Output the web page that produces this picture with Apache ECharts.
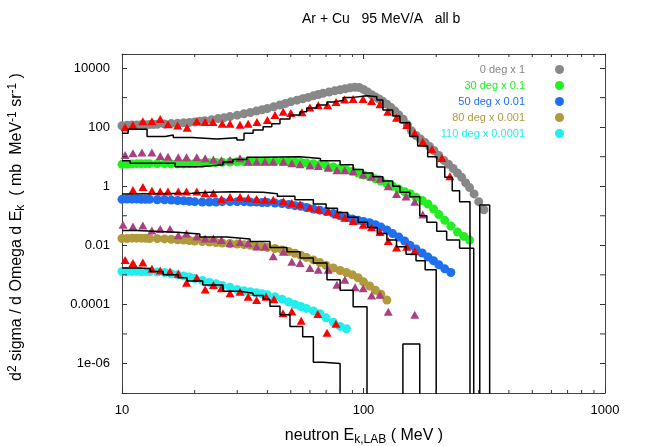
<!DOCTYPE html>
<html>
<head>
<meta charset="utf-8">
<script src="https://cdn.jsdelivr.net/npm/echarts@6/dist/echarts.min.js"></script>
<style>
  html, body { margin: 0; padding: 0; background: #fff; }
  #chart { width: 664px; height: 446px; }
</style>
</head>
<body>
<div id="chart"></div>
<script>
// ---- data (MeV, mb/MeV/sr, already scaled) ----
var deg0E = [10,10.5,11,11.5,12,12.5,13,13.5,14,15,16,17,18,19,20,21,22,23.5,25,26.5,28,30,32,34,36,38,40,42.5,45,47.5,50,53,56,59,62,65,68,72,76,80,84,88,92,96,100,104,108,112,116,120,125,130,135,140,146,152,158,165,172,180,188,196,205,215,225,235,245,255,265,275,287,300,315];
var deg0V = [112,115,118,118,120,120,122,124,126,128,132,135,140,145,150,158,165,178,195,210,228,255,285,315,350,390,430,490,560,630,720,820,920,1020,1150,1280,1400,1550,1700,1850,2000,2150,2250,2200,1900,1550,1250,1050,900,760,600,460,350,260,185,120,75,52,40,30,22,16,11,7.5,5.5,4,2.8,2,1.3,0.9,0.55,0.3,0.16];

var deg30E = [10,10.5,11,11.5,12,12.5,13,14,15,16,17,18,19,20,21.5,23,24.5,26,28,30,32,34,36,38,40,43,46,49,52,55,58,62,66,70,75,80,85,90,95,100,106,112,118,125,132,140,148,156,165,175,185,195,205,217,230,245,260,275];
var deg30V = [5.5,5.6,5.7,5.8,5.8,5.8,5.8,5.8,5.8,5.7,5.7,5.7,5.8,5.9,6.0,6.2,6.4,6.5,6.6,6.7,6.8,6.9,7.0,7.0,7.0,7.0,6.9,6.8,6.6,6.4,6.1,5.8,5.4,5.0,4.5,4.0,3.6,3.2,2.8,2.4,2.1,1.8,1.5,1.2,1.0,0.8,0.65,0.56,0.42,0.33,0.25,0.17,0.11,0.07,0.045,0.028,0.02,0.015];

var deg50E = [10,10.5,11,11.5,12,12.5,13,14,15,16,17,18,19,20,21.5,23,24.5,26,28,30,32,34,36,38,40,43,46,49,52,55,58,62,66,70,75,80,85,90,95,100,106,112,118,125,132,140,148,156,165,175,185,195,205,217,230];
var deg50V = [0.36,0.37,0.37,0.37,0.36,0.36,0.36,0.35,0.35,0.34,0.33,0.32,0.31,0.3,0.29,0.29,0.29,0.3,0.3,0.3,0.3,0.29,0.29,0.28,0.28,0.27,0.26,0.24,0.22,0.21,0.19,0.17,0.155,0.14,0.12,0.1,0.088,0.078,0.07,0.064,0.058,0.05,0.042,0.033,0.025,0.019,0.014,0.01,0.0075,0.0055,0.004,0.003,0.0022,0.0016,0.0012];

var deg80E = [10,10.5,11,11.5,12,12.5,13,14,15,16,17,18,19,20,21.5,23,24.5,26,28,30,32,34,36,38,40,43,46,49,52,55,58,62,66,70,75,80,85,90,95,100,106,112,118,125];
var deg80V = [0.017,0.017,0.0175,0.0175,0.0175,0.0172,0.017,0.0168,0.0165,0.016,0.0155,0.015,0.0145,0.014,0.0135,0.013,0.0125,0.012,0.0115,0.011,0.0105,0.01,0.0095,0.009,0.0085,0.0078,0.007,0.0062,0.0054,0.0046,0.0039,0.0032,0.0026,0.0021,0.0017,0.0014,0.0012,0.001,0.0008,0.00058,0.00042,0.0003,0.00022,0.00014];

var deg110E = [10,10.5,11,11.5,12,12.5,13,14,15,16,17,18,19,20,21.5,23,24.5,26,28,30,32,34,36,38,40,43,46,49,52,55,58,62,66,70,75,80,85];
var deg110V = [0.0013,0.0013,0.0013,0.00132,0.0013,0.0013,0.0013,0.00125,0.0012,0.0011,0.001,0.00092,0.00085,0.00075,0.00065,0.00056,0.0005,0.00044,0.00038,0.00032,0.00029,0.00027,0.00025,0.00023,0.00021,0.00018,0.00015,0.00012,0.0001,8.5e-5,7.3e-5,6e-5,4.8e-5,3.5e-5,2.5e-5,1.8e-5,1.5e-5];

// model triangles
var tri0E = [10.3,11.1,12.2,13.3,14.4,15.5,17,18.6,20.4,22.1,23.8,26,28,30.8,33.3,36.2,40,43,46.5,50,55.6,60,65,71,77,83.6,90.6,99.6,108,117,126,137,151,163,176,192,211,228];
var tri0V = [100,118,160,160,190,125,113,95,160,150,150,130,130,120,130,150,175,260,335,300,320,460,550,550,710,870,900,900,770,600,335,210,118,63,32,18,9,2.2];

var tri30E = [10.3,11.1,12.1,13.3,14.4,15.5,17.1,18.5,20.4,22.1,23.9,25.8,28,30.8,33.3,36.1,39.1,42.3,46.6,50.5,54.6,60,65,71.4,77.6,83.7,90.6,99.7,108,117,126.6,137,150,163,176];
var tri30V = [11.4,13.2,14,14,10.6,10,9.6,9.6,9.6,8.8,8,7.6,7.6,8.8,6.8,6.8,6.8,6.8,6.8,6,5.6,5,4.8,4.2,3.5,3.5,3.2,2.5,2.1,1.8,1.0,0.55,0.45,0.3,0.11];

var tri50E = [11.1,12.2,13.3,14.4,15.5,17.1,18.5,20.4,22.1,23.9,25.8,28,30.8,33.3,36.1,39.1,42.3,46.6,50.5,54.6,60,65,71.4,77.6,83.7,90.6,99.7,108,117,126.6,137,151,163];
var tri50V = [0.74,0.94,0.71,0.66,0.66,0.66,0.66,0.66,0.58,0.58,0.37,0.43,0.43,0.4,0.37,0.35,0.35,0.31,0.27,0.24,0.19,0.165,0.14,0.11,0.085,0.067,0.05,0.041,0.028,0.014,0.0085,0.009,0.0063];

var tri80E = [10.1,11.1,12.2,13.3,14.4,15.8,17.1,18.5,20.4,22.1,23.9,25.8,28,30.8,33.3,36.1,39.1,42.3,46.6,50.5,54.6,60,65,71.4,77.6,83.7,92.3,99.7,108,117,126.6,163];
var tri80V = [0.0495,0.0437,0.047,0.032,0.0355,0.0355,0.022,0.025,0.02,0.017,0.017,0.015,0.0118,0.013,0.0118,0.0092,0.0092,0.0043,0.0061,0.0028,0.0025,0.0017,0.0015,0.0015,0.00046,0.00068,0.00038,0.00035,0.0002,0.00021,5.6e-5,4.5e-5];

var tri110E = [10.3,11.1,12.2,13.3,14.4,15.8,17.1,18.5,20.4,22.1,23.9,25.8,28,30.8,33.3,36.1,39.5,42.6,46.4,50.5,55.2,64.7,70.6,76.9];
var tri110V = [0.0032,0.0025,0.0026,0.0016,0.0014,0.0013,0.0011,0.00054,0.0008,0.00032,0.00045,0.00035,0.00024,0.00027,0.00018,0.00014,0.00018,0.00015,5e-5,5.8e-5,2.8e-5,4.7e-5,1.1e-5,2.2e-5];

// model histograms: bin edges and contents (0 = empty bin)
var hist0Edges = [10,10.6,12.7,15.1,16.3,19.5,24.7,29.9,32,34.9,38.4,41.7,45.1,49.6,54.6,58.2,64.1,70.6,74.9,82.3,90.6,103.4,113.6,120.3,132.2,141.5,155.5,167.6,184.4,201.3,217,233,250,276,303,333];
var hist0Vals = [62,85,48,54,45,40,44,37,62,80,104,130,190,260,335,446,560,710,800,1020,1150,1070,830,380,240,140,48,23,10,4.5,2,0.7,0.3,0,0.23];

var hist30Edges = [10,10.8,16.6,21,26.2,28.8,32.9,37.2,54.6,66.3,80,90.6,99.6,109.4,120.3,132.2,141.5,155.5,171,183,201,221,250,286];
var hist30Vals = [7.3,6.0,4.6,5.3,6.6,8,9.6,10,8.7,7.3,5.3,3.7,2.8,2.1,1.5,1.0,0.62,0.44,0.1,0.06,0.03,0.015,0.008];

var hist50Edges = [10,10.8,19.5,21,23.2,28.8,38.4,44,52,62,70,78,86,95,104,114,125,137,150,165,180,200];
var hist50Vals = [0.55,0.58,0.6,0.62,0.65,0.63,0.56,0.46,0.35,0.25,0.18,0.13,0.09,0.06,0.04,0.025,0.015,0.009,0.005,0.003,0.0015];

var hist80Edges = [10,11.5,16.9,21,27.2,33.9,41,48.2,54.6,62,70.6,80,90.6,103.4,145.6,171];
var hist80Vals = [0.0317,0.0277,0.024,0.019,0.0165,0.0135,0.0085,0.006,0.0037,0.0025,0.00068,0.0003,8.3e-5,0,4.6e-6];

var hist110Edges = [10,11.65,13.1,14.8,17.1,18.6,21.6,26.2,30.8,34.9,38.4,41,45.1,49.6,56,62,68,80];
var hist110Vals = [0.0017,0.0016,0.0013,0.001,0.0008,0.00062,0.00045,0.00028,0.00024,0.0002,0.00015,8.6e-5,4.5e-5,1.8e-5,8e-6,1.1e-6,1e-6];

var legendNames = ['0 deg x 1', '30 deg x 0.1', '50 deg x 0.01', '80 deg x 0.001', '110 deg x 0.0001'];
var circleColors = ['#888888', '#22ee22', '#1f6fef', '#b09a3c', '#22eeee'];
var triColors = ['#ff0000', '#aa4080', '#ff0000', '#aa4080', '#ff0000'];

// tick positions that ECharts cannot place itself on log axes
var xMinorTicks = [20,30,40,50,60,70,80,90,200,300,400,500,600,700,800,900];
var yOddDecades = [1e-5,1e-3,0.1,10,1000];

var Y_MIN = 1e-7, Y_MAX = 3e4;
var FONT = '"Liberation Sans", Arial, sans-serif';

function pairs(xs, ys) {
    return xs.map(function (x, i) { return [x, ys[i]]; });
}
function histPoints(edges, vals) {
    var pts = [];
    for (var i = 0; i < vals.length; i++) {
        pts.push([edges[i], vals[i] > 0 ? vals[i] : 1e-12]);
    }
    pts.push([edges[edges.length - 1], vals[vals.length - 1] > 0 ? vals[vals.length - 1] : 1e-12]);
    pts.push([edges[edges.length - 1], 1e-12]);
    return pts;
}

var circleSets = [[deg0E, deg0V], [deg30E, deg30V], [deg50E, deg50V], [deg80E, deg80V], [deg110E, deg110V]];
var triSets = [[tri0E, tri0V], [tri30E, tri30V], [tri50E, tri50V], [tri80E, tri80V], [tri110E, tri110V]];
var histSets = [[hist0Edges, hist0Vals], [hist30Edges, hist30Vals], [hist50Edges, hist50Vals], [hist80Edges, hist80Vals], [hist110Edges, hist110Vals]];

var series = [];
circleSets.forEach(function (s, i) {
    series.push({
        name: legendNames[i],
        type: 'scatter',
        symbol: 'circle',
        symbolSize: 9,
        itemStyle: { color: circleColors[i], opacity: 1 },
        data: pairs(s[0], s[1]),
        z: 2
    });
});
triSets.forEach(function (s, i) {
    series.push({
        name: 'model ' + i,
        type: 'scatter',
        symbol: 'triangle',
        symbolSize: [9, 8],
        itemStyle: { color: triColors[i], opacity: 1 },
        data: pairs(s[0], s[1]),
        z: 3
    });
});
histSets.forEach(function (s, i) {
    series.push({
        name: 'hist ' + i,
        type: 'line',
        step: 'end',
        showSymbol: false,
        symbol: 'none',
        lineStyle: { color: '#000', width: 1.5 },
        data: histPoints(s[0], s[1]),
        clip: true,
        z: 4
    });
});

// extra tick marks (x: 2..9 per decade, y: odd decades), both sides
var tickMarks = xMinorTicks.map(function (v) { return [v, Y_MIN, 0]; })
    .concat(yOddDecades.map(function (v) { return [10, v, 1]; }));
series.push({
    type: 'custom',
    name: 'ticks',
    silent: true,
    clip: false,
    z: 5,
    data: tickMarks,
    renderItem: function (params, api) {
        var kind = api.value(2);
        var st = { stroke: '#333', lineWidth: 1 };
        if (kind === 0) {
            var b = api.coord([api.value(0), Y_MIN]);
            var t = api.coord([api.value(0), Y_MAX]);
            return { type: 'group', children: [
                { type: 'line', shape: { x1: b[0], y1: b[1], x2: b[0], y2: b[1] - 3 }, style: st },
                { type: 'line', shape: { x1: t[0], y1: t[1], x2: t[0], y2: t[1] + 3 }, style: st }
            ]};
        }
        var l = api.coord([10, api.value(1)]);
        var r = api.coord([1000, api.value(1)]);
        return { type: 'group', children: [
            { type: 'line', shape: { x1: l[0], y1: l[1], x2: l[0] + 5, y2: l[1] }, style: st },
            { type: 'line', shape: { x1: r[0], y1: r[1], x2: r[0] - 5, y2: r[1] }, style: st }
        ]};
    }
});

var yLabelText = { '-6': '1e-06', '-4': '0.0001', '-2': '0.01', '0': '1', '2': '100', '4': '10000' };

var axisLineStyle = { color: '#444', width: 1 };

var chart = echarts.init(document.getElementById('chart'));
var option = {
    animation: false,
    backgroundColor: '#fff',
    title: {
        text: 'Ar + Cu   95 MeV/A   all b',
        left: 297,
        top: 7,
        textStyle: { fontFamily: FONT, fontSize: 14, fontWeight: 'normal', color: '#000' }
    },
    legend: {
        orient: 'vertical',
        right: 95,
        top: 59,
        align: 'right',
        itemWidth: 9,
        itemHeight: 9,
        itemGap: 5,
        icon: 'circle',
        textStyle: { fontFamily: FONT, fontSize: 11, padding: [0, 25, 0, 0] },
        data: legendNames.map(function (n, i) {
            return { name: n, textStyle: { color: circleColors[i] } };
        })
    },
    grid: { left: 122, right: 59, top: 54, bottom: 53 },
    xAxis: [{
        type: 'log',
        logBase: 10,
        min: 10,
        max: 1000,
        axisLine: { show: true, lineStyle: axisLineStyle },
        axisTick: { show: true, inside: true, length: 5, lineStyle: { color: '#333' } },
        axisLabel: {
            fontFamily: FONT, fontSize: 13, color: '#000', margin: 11,
            formatter: function (v) { return String(Math.round(v)); }
        },
        splitLine: { show: false }
    }, {
        type: 'log',
        logBase: 10,
        min: 10,
        max: 1000,
        position: 'top',
        axisLine: { show: true, lineStyle: axisLineStyle },
        axisTick: { show: true, inside: true, length: 5, lineStyle: { color: '#333' } },
        axisLabel: { show: false },
        splitLine: { show: false }
    }],
    yAxis: [{
        type: 'log',
        logBase: 100,
        min: Y_MIN,
        max: Y_MAX,
        axisLine: { show: true, lineStyle: axisLineStyle },
        axisTick: { show: true, inside: true, length: 5, lineStyle: { color: '#333' } },
        axisLabel: {
            fontFamily: FONT, fontSize: 13, color: '#000', margin: 12,
            formatter: function (v) {
                var e = Math.log(v) / Math.LN10;
                var k = Math.round(e);
                return Math.abs(e - k) < 1e-6 && yLabelText[String(k)] !== undefined ? yLabelText[String(k)] : '';
            }
        },
        splitLine: { show: false }
    }, {
        type: 'log',
        logBase: 100,
        min: Y_MIN,
        max: Y_MAX,
        position: 'right',
        axisLine: { show: true, lineStyle: axisLineStyle },
        axisTick: { show: true, inside: true, length: 5, lineStyle: { color: '#333' } },
        axisLabel: { show: false },
        splitLine: { show: false }
    }],
    graphic: [{
        type: 'text',
        x: 364,
        y: 436,
        style: {
            text: 'neutron E{sub|k,LAB} ( MeV )',
            font: '16px ' + FONT,
            fill: '#000',
            align: 'center',
            verticalAlign: 'middle',
            rich: {
                sub: { fontSize: 12, padding: [8, 0, 0, 0], fontFamily: FONT }
            }
        }
    }, {
        type: 'text',
        rotation: Math.PI / 2,
        x: 17,
        y: 227,
        style: {
            text: 'd{sup|2} sigma / d Omega d E{sub|k}  ( mb  MeV{sup|-1} sr{sup|-1} )',
            font: '16px ' + FONT,
            fill: '#000',
            align: 'center',
            verticalAlign: 'middle',
            rich: {
                sup: { fontSize: 12, padding: [0, 0, 9, 0], fontFamily: FONT },
                sub: { fontSize: 12, padding: [8, 0, 0, 0], fontFamily: FONT }
            }
        }
    }],
    series: series
};
chart.setOption(option);
</script>
</body>
</html>
